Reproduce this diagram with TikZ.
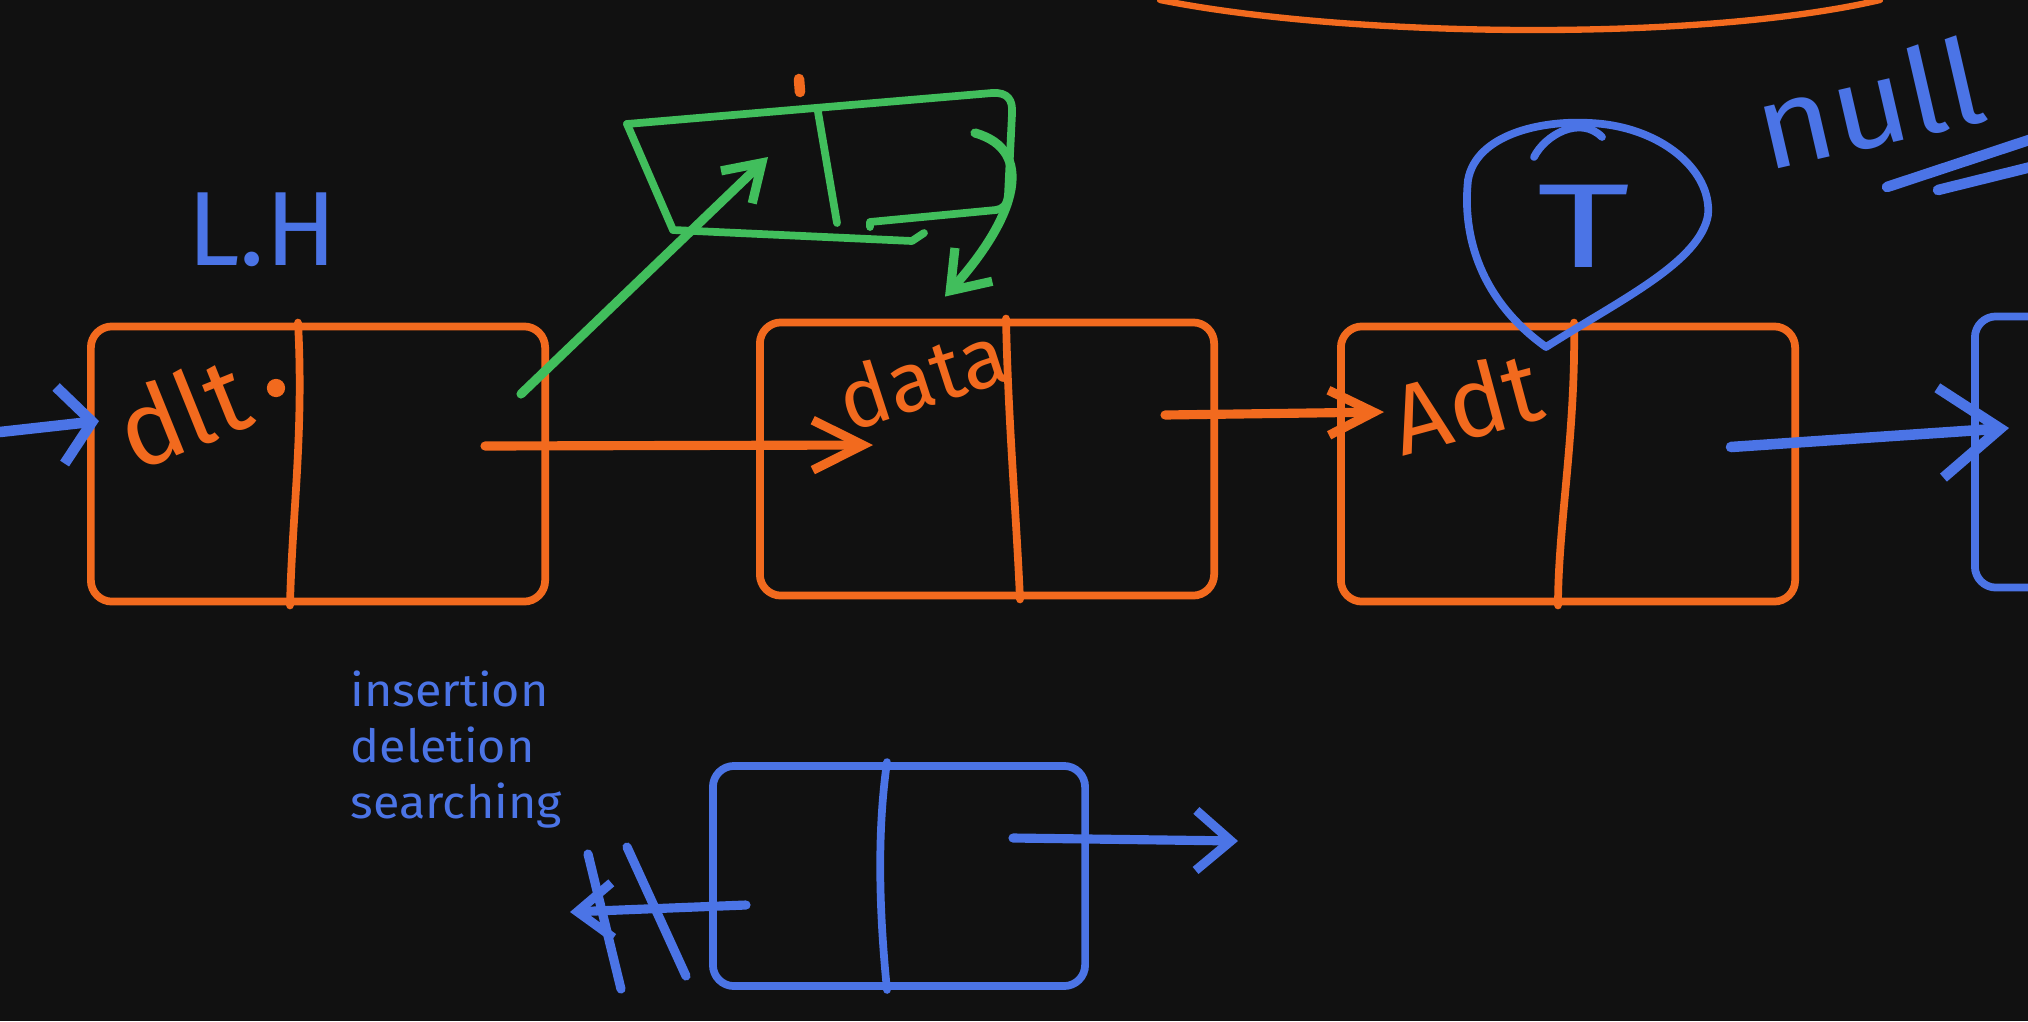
\documentclass[tikz,border=0pt]{standalone}
\usepackage{fontspec}
\setmainfont{Fira Sans}
\usepackage{xcolor}
\usetikzlibrary{arrows.meta, calc}
\definecolor{boardColor}{HTML}{111111}
\definecolor{penOrange}{HTML}{F26A1E}
\definecolor{penBlue}{HTML}{4B74E6}
\definecolor{penGreen}{HTML}{41BE5C}

\begin{document}
\begin{tikzpicture}[
  x=0.01cm, y=-0.01cm,
  pen/.style={draw=#1, line width=2.6pt, line cap=round, line join=round},
  pen/.default=penOrange,
  barb/.style 2 args={arrows={-{Straight Barb[length=#1, width=#2]}}},
  listnode/.style={
    rectangle,
    draw=#1,
    line width=2.2pt,
    rounded corners=6pt,
    minimum width=4.54cm,
    minimum height=2.75cm,
    inner sep=0pt
  },
  scrawl/.style={text=#1, inner sep=0pt}
]
  \useasboundingbox (0,0) rectangle (2028,1021);
  \clip (0,0) rectangle (2028,1021);
  \fill[boardColor] (0,0) rectangle (2028,1021);

  % Define nodes
  \node[listnode=penOrange] (first) at (318,464) {};
  \node[listnode=penOrange, minimum height=2.73cm] (second) at (987,459) {};
  \node[listnode=penOrange] (third) at (1568,464) {};
  \node[listnode=penBlue, minimum height=2.71cm] (fourth) at (2202,452) {};
  \node[listnode=penBlue, minimum width=3.72cm, minimum height=2.2cm] (spare) at (899,876) {};

  % dividers
  \draw[pen=penOrange, line width=2.2pt] ($(first.north)+(-20,0)$) .. controls +(6,110) and +(2,-90) .. ($(first.south)+(-28,0)$);
  \draw[pen=penOrange, line width=2.2pt] ($(second.north)+(19,0)$) .. controls +(2,100) and +(-4,-90) .. ($(second.south)+(33,0)$);
  \draw[pen=penOrange, line width=2.2pt] ($(third.north)+(6,0)$) .. controls +(2,110) and +(0,-80) .. ($(third.south)+(-10,0)$);
  \draw[pen=penBlue, line width=2.2pt] ($(spare.north)+(-12,0)$) .. controls +(-10,70) and +(-8,-80) .. ($(spare.south)+(-12,0)$);

  % labels
  \node[scrawl=penOrange, rotate=22, font=\fontsize{30}{30}\selectfont] (firstdata) at (182,412) {dlt};
  \fill[penOrange] (276,388) circle (2.6pt);
  \node[scrawl=penOrange, rotate=18, font=\fontsize{24}{24}\selectfont] (seconddata) at (922,376) {data};
  \node[scrawl=penOrange, rotate=15, font=\fontsize{28}{28}\selectfont] (thirddata) at (1466,402) {Adt};
  \node[text=penBlue, font=\fontsize{30}{30}\selectfont] (title) at (262,230) {L.H};
  \node[text=penBlue, font=\fontsize{34}{34}\selectfont, xscale=1.5] (tmark) at (1584,226) {T};
  \node[text=penBlue, font=\fontsize{34}{34}\selectfont, rotate=13, xscale=1.1, anchor=south west, inner sep=0pt] (nullword) at (1766,174) {null};
  \node[text=penBlue, font=\fontsize{13}{16}\selectfont, align=left, anchor=north west, inner sep=0pt, xscale=1.06] (ops) at (350,670) {insertion\\deletion\\searching};

  % ring round T, null underlines
  \draw[pen=penBlue, line width=2.2pt] (1546,347) .. controls (1480,300) and (1462,235) .. (1468,180)
    .. controls (1476,135) and (1540,120) .. (1590,123) .. controls (1660,126) and (1712,170) .. (1708,215)
    .. controls (1700,262) and (1620,300) .. (1546,347);
  \draw[pen=penBlue, line width=2.2pt] (1534,157) .. controls (1545,135) and (1580,115) .. (1602,137);
  \draw[pen=penBlue, line width=3pt] (1887,187) -- (2035,138);
  \draw[pen=penBlue, line width=3pt] (1938,190) -- (2035,166);

  % new node in green
  \draw[pen=penGreen, line width=2.2pt] (627,124) -- (992,93) .. controls (1008,92) and (1013,100) .. (1012,114)
    -- (1008,195) .. controls (1007,205) and (1003,209) .. (996,210) -- (870,222) -- (870,227);
  \draw[pen=penGreen, line width=2.2pt] (627,124) -- (673,230) -- (912,241) -- (924,233);
  \draw[pen=penGreen, line width=2.2pt] (818,112) -- (837,223);
  \draw[pen=penOrange, line width=3pt] (799,79) -- (800,92);

  % top stroke
  \draw[pen=penOrange, line width=1.8pt] (1160,0) .. controls (1350,38) and (1700,42) .. (1880,0);

  % Connect nodes with arrows
  \coordinate (entry) at (0,432);
  \draw[pen=penBlue, line width=3pt, barb={3.2mm}{7.7mm}] (entry) -- ($(first.west)+(12,-43)$);
  \draw[pen=penOrange, barb={5mm}{5mm}] ($(first.east)+(-64,-18)$) -- ($(second.west)+(117,-14)$);
  \draw[pen=penOrange, barb={4.5mm}{4.5mm}] ($(second.east)+(-53,-44)$) -- ($(third.west)+(47,-52)$);
  \draw[pen=penBlue, line width=3pt, barb={6mm}{9mm}] ($(third.east)+(-68,-17)$) -- ($(fourth.west)+(38,-24)$);

  \coordinate (freshslot) at (768,157);
  \coordinate (freshnext) at (975,133);
  \draw[pen=penGreen, barb={3.5mm}{4.5mm}] ($(first.east)+(-28,-70)$) -- (freshslot);
  \draw[pen=penGreen, barb={3.5mm}{5mm}] (freshnext) .. controls (1035,150) and (1018,215) .. ($(second.north)+(-42,-22)$);

  \coordinate (sparenext) at (1238,841);
  \coordinate (spareprev) at (570,912);
  \draw[pen=penBlue, barb={3.5mm}{6mm}] ($(spare.east)+(-76,-38)$) -- (sparenext);
  \draw[pen=penBlue, barb={3.5mm}{5.5mm}] ($(spare.west)+(37,29)$) -- (spareprev);
  \draw[pen=penBlue] (588,854) -- (621,989);
  \draw[pen=penBlue] (627,847) -- (686,976);
\end{tikzpicture}
\end{document}
